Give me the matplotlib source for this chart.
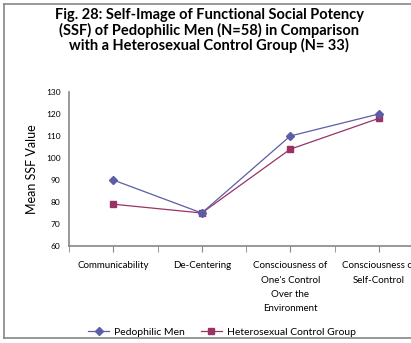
import matplotlib
matplotlib.use("Agg")
import matplotlib.pyplot as plt
from matplotlib.lines import Line2D
from matplotlib.ticker import MultipleLocator

plt.rcParams['font.family'] = ['Lato', 'DejaVu Sans']

categories = ["Communicability", "De-Centering",
              "Consciousness of\nOne's Control\nOver the\nEnvironment",
              "Consciousness of\nSelf-Control"]
pedophilic = [90, 75, 110, 120]
control = [79, 75, 104, 118]
yticks = [60, 70, 80, 90, 100, 110, 120, 130]

W, H = 411, 343
fig = plt.figure(figsize=(W / 100, H / 100), dpi=100)

# frame of the chart area (left, top, bottom visible)
fig.add_artist(Line2D([4 / W, 4 / W], [1 - 4 / H, 1 - 338 / H], transform=fig.transFigure, color='#868686', lw=1.2))
fig.add_artist(Line2D([4 / W, 1.0], [1 - 4 / H, 1 - 4 / H], transform=fig.transFigure, color='#868686', lw=1.2))
fig.add_artist(Line2D([4 / W, 1.0], [1 - 338 / H, 1 - 338 / H], transform=fig.transFigure, color='#868686', lw=1.2))

left, right, top, bottom = 69, 423, 92, 246
ax = fig.add_axes([left / W, 1 - bottom / H, (right - left) / W, (bottom - top) / H])

x = list(range(len(categories)))
blue = '#5B5EA6'
red = '#993366'
ax.plot(x, pedophilic, color=blue, lw=0.9, marker='D', ms=4.5, label='Pedophilic Men', clip_on=False, zorder=3)
ax.plot(x, control, color=red, lw=0.9, marker='s', ms=5, label='Heterosexual Control Group', clip_on=False, zorder=2)

ax.set_xlim(-0.5, 3.5)
ax.set_ylim(60, 130)
ax.set_yticks(yticks)
ax.set_yticklabels([str(v) for v in yticks], fontsize=6)
ax.tick_params(axis='y', length=0, pad=6)
ax.set_xticks(x)
ax.set_xticklabels([])
ax.xaxis.set_minor_locator(MultipleLocator(0.5))
ax.tick_params(axis='x', which='both', length=4, color='#868686', direction='out')

for i, lab in enumerate(categories):
    ax.annotate(lab, xy=(i, 60), xycoords='data', xytext=(0, -11), textcoords='offset points',
                ha='center', va='top', fontsize=7, linespacing=1.75, annotation_clip=False)

for s in ['top', 'right']:
    ax.spines[s].set_visible(False)
for s in ['left', 'bottom']:
    ax.spines[s].set_color('#868686')
    ax.spines[s].set_linewidth(1.2)

ax.set_ylabel('Mean SSF Value', fontsize=9, labelpad=6)

fig.text(209 / W, 1 - 8 / H, "Fig. 28: Self-Image of Functional Social Potency\n(SSF) of Pedophilic Men (N=58) in Comparison\nwith a Heterosexual Control Group (N= 33)",
         ha='center', va='top', fontsize=10.5, fontweight='bold', linespacing=1.05)

handles = [Line2D([], [], color=blue, lw=0.9, marker='D', ms=4.5),
           Line2D([], [], color=red, lw=0.9, marker='s', ms=5)]
fig.legend(handles, ['Pedophilic Men', 'Heterosexual Control Group'], loc='center',
           bbox_to_anchor=(222 / W, 1 - 332 / H), ncol=2, frameon=False, fontsize=7.5,
           handlelength=2.0, columnspacing=1.5, handletextpad=0.5)

fig.savefig('out.png', dpi=100)
